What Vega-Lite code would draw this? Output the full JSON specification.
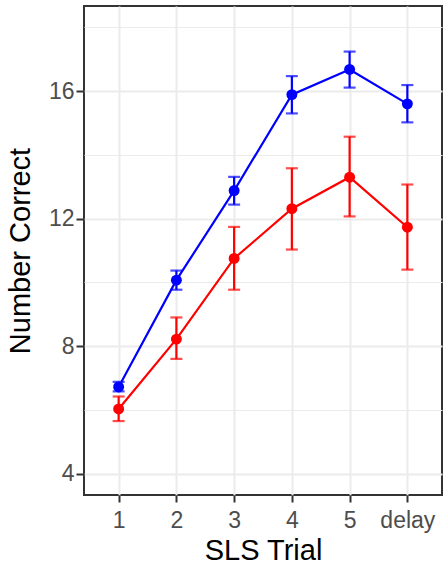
{
  "$schema": "https://vega.github.io/schema/vega-lite/v6.json",
  "width": 358,
  "height": 489,
  "autosize": {"type": "none"},
  "padding": {"left": 84, "top": 6, "right": 1, "bottom": 69},
  "background": "white",
  "config": {
    "font": "Liberation Sans",
    "view": {"stroke": "#333333", "strokeWidth": 2},
    "axis": {
      "domain": false,
      "grid": true,
      "gridColor": "#EBEBEB",
      "gridWidth": 2,
      "tickColor": "#333333",
      "tickWidth": 2,
      "labelFont": "Liberation Sans",
      "labelFontSize": 23,
      "labelColor": "#4D4D4D",
      "titleFont": "Liberation Sans",
      "titleFontSize": 29,
      "titleFontWeight": "normal",
      "titleColor": "#000000"
    }
  },
  "data": {
    "values": [
      {"trial": "1", "group": "A", "mean": 6.72, "lo": 6.58, "hi": 6.88},
      {"trial": "2", "group": "A", "mean": 10.07, "lo": 9.77, "hi": 10.37},
      {"trial": "3", "group": "A", "mean": 12.88, "lo": 12.44, "hi": 13.31},
      {"trial": "4", "group": "A", "mean": 15.89, "lo": 15.3, "hi": 16.47},
      {"trial": "5", "group": "A", "mean": 16.68, "lo": 16.11, "hi": 17.24},
      {"trial": "delay", "group": "A", "mean": 15.6, "lo": 15.02, "hi": 16.19},
      {"trial": "1", "group": "B", "mean": 6.03, "lo": 5.65, "hi": 6.42},
      {"trial": "2", "group": "B", "mean": 8.22, "lo": 7.6, "hi": 8.9},
      {"trial": "3", "group": "B", "mean": 10.75, "lo": 9.77, "hi": 11.74},
      {"trial": "4", "group": "B", "mean": 12.31, "lo": 11.03, "hi": 13.58},
      {"trial": "5", "group": "B", "mean": 13.3, "lo": 12.07, "hi": 14.57},
      {"trial": "delay", "group": "B", "mean": 11.73, "lo": 10.4, "hi": 13.07}
    ]
  },
  "encoding": {
    "x": {
      "field": "trial",
      "type": "ordinal",
      "sort": ["1", "2", "3", "4", "5", "delay"],
      "scale": {"type": "point", "padding": 0.6},
      "axis": {
        "title": "SLS Trial",
        "labelAngle": 0,
        "tickSize": 7,
        "labelPadding": 7,
        "titlePadding": 4
      }
    },
    "color": {
      "field": "group",
      "type": "nominal",
      "scale": {"domain": ["A", "B"], "range": ["#0000FF", "#FF0000"]},
      "legend": null
    }
  },
  "layer": [
    {
      "mark": {"type": "rule", "strokeWidth": 2.2},
      "encoding": {
        "y": {
          "field": "lo",
          "type": "quantitative",
          "title": "Number Correct",
          "scale": {"domain": [3.33, 18.67], "nice": false, "zero": false},
          "axis": {
            "values": [4, 6, 8, 10, 12, 14, 16, 18],
            "labelExpr": "datum.value % 4 === 0 ? datum.label : ''",
            "tickSize": 8,
            "labelPadding": 2,
            "titlePadding": 13,
            "tickOpacity": {"condition": {"test": "datum.value % 4 === 0", "value": 1}, "value": 0},
            "gridWidth": {"condition": {"test": "datum.value % 4 === 0", "value": 2}, "value": 1}
          }
        },
        "y2": {"field": "hi"}
      }
    },
    {
      "mark": {"type": "tick", "thickness": 2.2, "size": 12},
      "encoding": {"y": {"field": "lo", "type": "quantitative", "title": "Number Correct"}}
    },
    {
      "mark": {"type": "tick", "thickness": 2.2, "size": 12},
      "encoding": {"y": {"field": "hi", "type": "quantitative", "title": "Number Correct"}}
    },
    {
      "mark": {"type": "line", "strokeWidth": 2.2},
      "encoding": {"y": {"field": "mean", "type": "quantitative", "title": "Number Correct"}}
    },
    {
      "mark": {"type": "point", "filled": true, "opacity": 1, "size": 120},
      "encoding": {"y": {"field": "mean", "type": "quantitative", "title": "Number Correct"}}
    }
  ]
}
